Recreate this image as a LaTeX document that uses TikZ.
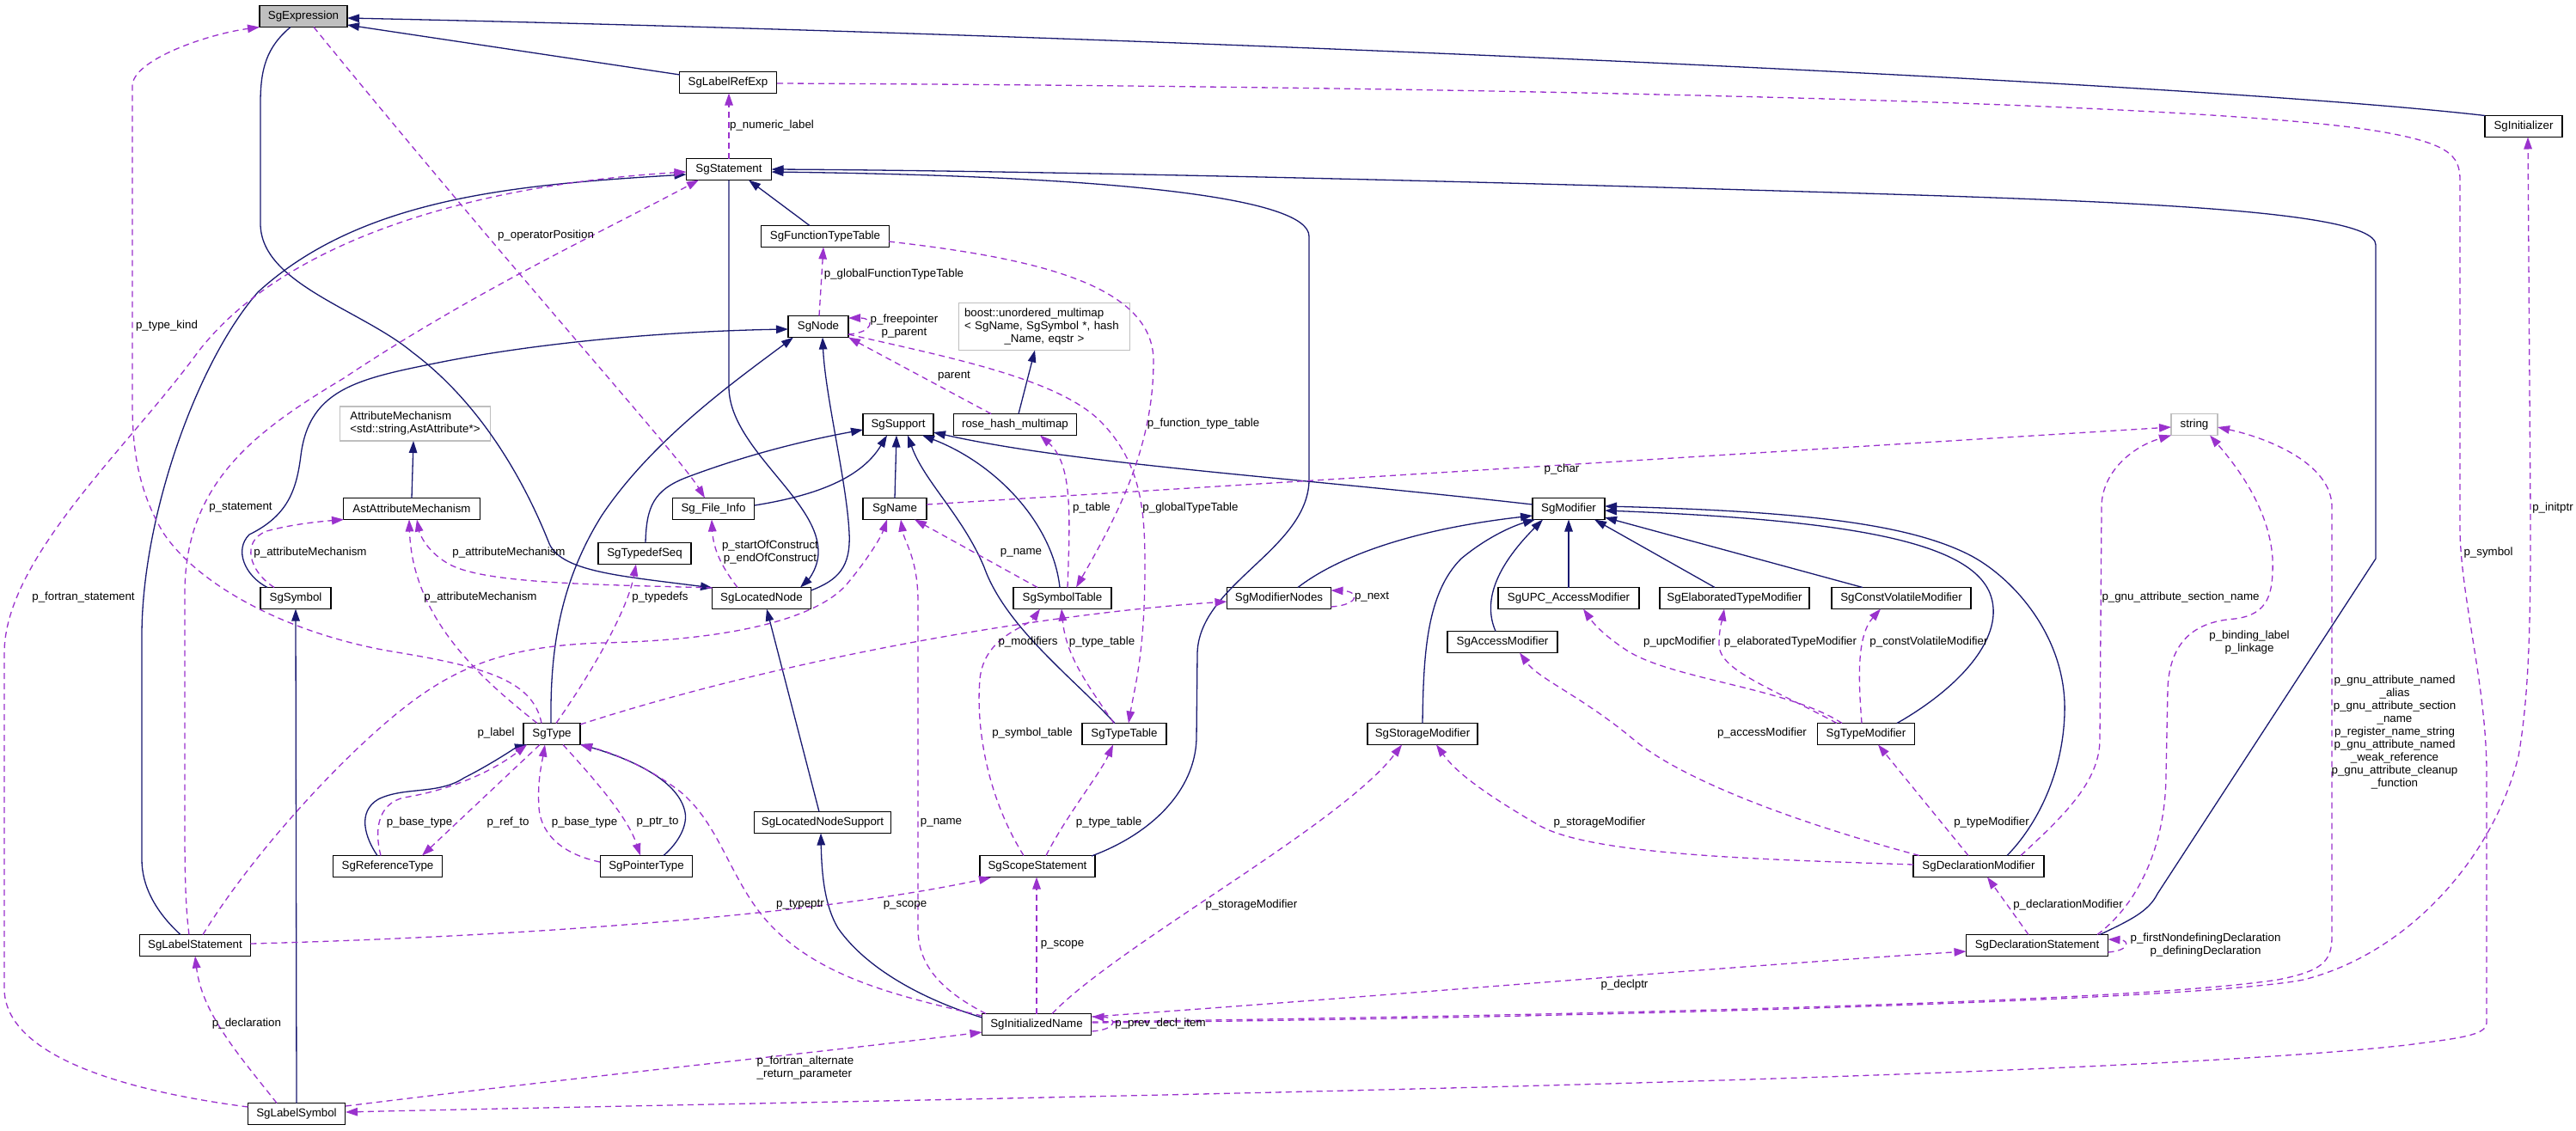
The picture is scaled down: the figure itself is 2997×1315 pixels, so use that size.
\documentclass[tikz,border=0pt]{standalone}
\usepackage{fontspec}
\setmainfont{Liberation Sans}
\usetikzlibrary{arrows.meta}
\definecolor{navyc}{HTML}{191970}
\definecolor{purp}{HTML}{9A32CD}
\definecolor{gbox}{HTML}{BFBFBF}
\newcommand{\dxf}{\fontsize{13.33}{15}\selectfont}
\tikzset{
  cls/.style={draw=black, line width=1.5pt, fill=white, minimum height=25pt, inner xsep=3pt, inner ysep=0pt, font=\dxf},
  ext/.style={cls, draw=gbox},
  inh/.style={draw=navyc, line width=1.3pt, -{Triangle[length=14pt,width=9.5pt]}},
  use/.style={draw=purp, line width=1.3pt, dash pattern=on 7pt off 5pt, -{Triangle[length=14pt,width=9.5pt]}},
  lbl/.style={font=\dxf, inner sep=0pt, align=center},
}
\begin{document}
\begin{tikzpicture}[x=1pt,y=-1pt]
\useasboundingbox (0,0) rectangle (2997,1315);
\fill[white] (0,0) rectangle (2997,1315);
% ---------------- nodes
\node[cls,fill=gbox,minimum width=102pt] (expr) at (353,19) {SgExpression};
\node[cls,minimum width=113pt] (lre) at (847,96) {SgLabelRefExp};
\node[cls,minimum width=99pt] (stmt) at (848,197) {SgStatement};
\node[cls,minimum width=149pt] (ftt) at (960,275) {SgFunctionTypeTable};
\node[cls,minimum width=90pt] (init) at (2936,147) {SgInitializer};
\node[cls,minimum width=70pt] (sgnode) at (952,380) {SgNode};
\node[ext,minimum width=199pt,minimum height=55pt,text width=186pt,align=left] (boost) at (1215,380) {boost::unordered\_multimap\\< SgName, SgSymbol *, hash\\\makebox[186pt][c]{\_Name, eqstr >}};
\node[cls,minimum width=82pt] (supp) at (1045,494) {SgSupport};
\node[cls,minimum width=143pt] (rhm) at (1181,494) {rose\_hash\_multimap};
\node[ext,minimum width=54pt] (str) at (2553,494) {string};
\node[ext,minimum width=175pt,minimum height=40pt,align=left] (am) at (483,493) {AttributeMechanism\\<std::string,AstAttribute*>};
\node[cls,minimum width=159pt] (ast) at (479,592) {AstAttributeMechanism};
\node[cls,minimum width=95pt] (sfi) at (830,592) {Sg\_File\_Info};
\node[cls,minimum width=74pt] (sgname) at (1041,592) {SgName};
\node[cls,minimum width=84pt] (mod) at (1825,592) {SgModifier};
\node[cls,minimum width=108pt] (tds) at (750,644) {SgTypedefSeq};
\node[cls,minimum width=82pt] (sym) at (344,696) {SgSymbol};
\node[cls,minimum width=115pt] (ln) at (886,696) {SgLocatedNode};
\node[cls,minimum width=114pt] (symt) at (1236,696) {SgSymbolTable};
\node[cls,minimum width=121pt] (mn) at (1488,696) {SgModifierNodes};
\node[cls,minimum width=164pt] (upc) at (1825,696) {SgUPC\_AccessModifier};
\node[cls,minimum width=174pt] (etm) at (2018,696) {SgElaboratedTypeModifier};
\node[cls,minimum width=162pt] (cvm) at (2212,696) {SgConstVolatileModifier};
\node[cls,minimum width=128pt] (acc) at (1748,747) {SgAccessModifier};
\node[cls,minimum width=66pt] (sgtype) at (642,854) {SgType};
\node[cls,minimum width=98pt] (tt) at (1308,854) {SgTypeTable};
\node[cls,minimum width=128pt] (stor) at (1655,854) {SgStorageModifier};
\node[cls,minimum width=113pt] (tm) at (2171,854) {SgTypeModifier};
\node[cls,minimum width=159pt] (lns) at (957,957) {SgLocatedNodeSupport};
\node[cls,minimum width=127pt] (ref) at (451,1008) {SgReferenceType};
\node[cls,minimum width=107pt] (ptr) at (752,1008) {SgPointerType};
\node[cls,minimum width=134pt] (scope) at (1207,1008) {SgScopeStatement};
\node[cls,minimum width=152pt] (dm) at (2302,1008) {SgDeclarationModifier};
\node[cls,minimum width=129pt] (lst) at (227,1100) {SgLabelStatement};
\node[cls,minimum width=165pt] (ds) at (2370,1100) {SgDeclarationStatement};
\node[cls,minimum width=127pt] (iname) at (1206,1192) {SgInitializedName};
\node[cls,minimum width=113pt] (lsym) at (345,1296) {SgLabelSymbol};
% ---------------- inheritance (navy)
\draw[inh] ([shift={(-56,-9)}]lre.center) -- ([shift={(51,10)}]expr.center);
\draw[inh] ([shift={(-45,-12.5)}]init.center) .. controls (2550,95) and (1300,40) .. ([shift={(51,2)}]expr.center);
\draw[inh] ([shift={(-15,12.5)}]expr.center) .. controls (310,55) and (303,80) .. (303,120) -- (303,260) .. controls (303,330) and (420,360) .. (480,410) .. controls (560,470) and (610,560) .. (638,630) .. controls (650,665) and (720,670) .. ([shift={(-57,-12)}]ln.center);
\draw[inh] ([shift={(0,12.5)}]stmt.center) -- (848,450) .. controls (848,520) and (950,580) .. (952,640) .. controls (953,660) and (940,675) .. ([shift={(45,-12.5)}]ln.center);
\draw[inh] ([shift={(57.5,-9)}]ln.center) .. controls (975,675) and (990,660) .. (988,620) .. controls (985,560) and (960,460) .. ([shift={(5,12.5)}]sgnode.center);
\draw[inh] ([shift={(-1,-12.5)}]sgtype.center) .. controls (640,760) and (650,680) .. (700,600) .. controls (760,510) and (860,440) .. ([shift={(-29,12.5)}]sgnode.center);
\draw[inh] ([shift={(-33,-12.5)}]sym.center) .. controls (285,670) and (272,640) .. (290,622) .. controls (335,600) and (345,570) .. (350,530) .. controls (360,450) and (420,440) .. (520,420) .. controls (650,395) and (800,385) .. ([shift={(-35,3)}]sgnode.center);
\draw[inh] ([shift={(-18,-12.5)}]ftt.center) -- ([shift={(23,12.5)}]stmt.center);
\draw[inh] ([shift={(63,-12)}]scope.center) .. controls (1340,970) and (1390,920) .. (1392,860) -- (1393,760) .. controls (1395,680) and (1520,640) .. (1523,560) -- (1523,275) .. controls (1523,230) and (1300,205) .. ([shift={(49.5,3)}]stmt.center);
\draw[inh] ([shift={(73,-12.5)}]ds.center) .. controls (2480,1070) and (2500,1060) .. (2510,1040) -- (2764,650) -- (2764,285) .. controls (2764,240) and (2400,232) .. (2000,220) .. controls (1500,205) and (1100,198) .. ([shift={(49.5,0)}]stmt.center);
\draw[inh] ([shift={(-4,-12.5)}]lns.center) -- ([shift={(6,12.5)}]ln.center);
\draw[inh] ([shift={(-63.5,-8)}]iname.center) .. controls (1080,1165) and (1010,1130) .. (975,1080) .. controls (960,1055) and (956,1020) .. ([shift={(-2,12.5)}]lns.center);
\draw[inh] ([shift={(0,-12.5)}]ast.center) -- ([shift={(-2,20)}]am.center);
\draw[inh] ([shift={(0,-12.5)}]lsym.center) -- ([shift={(0,12.5)}]sym.center);
\draw[inh] ([shift={(-17,-12.5)}]lst.center) .. controls (180,1060) and (165,1030) .. (165,1000) -- (165,740) .. controls (165,600) and (230,420) .. (300,340) .. controls (420,230) and (600,215) .. ([shift={(-49.5,6)}]stmt.center);
\draw[inh] ([shift={(-12,-12.5)}]ref.center) .. controls (425,975) and (415,945) .. (440,930) .. controls (470,915) and (510,925) .. (540,905) .. controls (570,890) and (600,870) .. ([shift={(-29,12.5)}]sgtype.center);
\draw[inh] ([shift={(20,-12.5)}]ptr.center) .. controls (790,980) and (800,960) .. (797,945) .. controls (790,910) and (740,885) .. ([shift={(33,12)}]sgtype.center);
\draw[inh] ([shift={(22,-12.5)}]mn.center) .. controls (1560,645) and (1650,615) .. ([shift={(-42,8)}]mod.center);
\draw[inh] ([shift={(0,-12.5)}]stor.center) .. controls (1656,760) and (1660,690) .. (1700,650) .. controls (1730,625) and (1760,612) .. ([shift={(-39,12.5)}]mod.center);
\draw[inh] ([shift={(-8,-12.5)}]acc.center) .. controls (1725,700) and (1740,660) .. ([shift={(-30,12.5)}]mod.center);
\draw[inh] ([shift={(0,-12.5)}]upc.center) -- ([shift={(0,12.5)}]mod.center);
\draw[inh] ([shift={(-23,-12.5)}]etm.center) -- ([shift={(30,12.5)}]mod.center);
\draw[inh] ([shift={(-45,-12.5)}]cvm.center) -- ([shift={(42,10)}]mod.center);
\draw[inh] ([shift={(36,-12.5)}]tm.center) .. controls (2280,800) and (2335,740) .. (2315,690) .. controls (2290,630) and (2150,605) .. ([shift={(42,2)}]mod.center);
\draw[inh] ([shift={(33,-12.5)}]dm.center) .. controls (2370,960) and (2400,900) .. (2402,830) .. controls (2405,740) and (2340,670) .. (2290,645) .. controls (2220,610) and (2100,595) .. ([shift={(42,-3)}]mod.center);
\draw[inh] ([shift={(4,-12.5)}]rhm.center) -- ([shift={(-11,27.5)}]boost.center);
\draw[inh] ([shift={(48,-4)}]sfi.center) .. controls (940,578) and (1000,560) .. ([shift={(-13,12.5)}]supp.center);
\draw[inh] ([shift={(1,-12.5)}]tds.center) .. controls (752,590) and (760,570) .. (800,555) .. controls (880,525) and (950,510) .. ([shift={(-41,6)}]supp.center);
\draw[inh] ([shift={(0,-12.5)}]sgname.center) -- ([shift={(-2,12.5)}]supp.center);
\draw[inh] ([shift={(-11,-12.5)}]tt.center) .. controls (1250,790) and (1170,730) .. (1145,660) .. controls (1120,600) and (1075,560) .. ([shift={(11,12.5)}]supp.center);
\draw[inh] ([shift={(-3,-12.5)}]symt.center) .. controls (1225,610) and (1160,540) .. ([shift={(28,12.5)}]supp.center);
\draw[inh] ([shift={(-42,-5)}]mod.center) .. controls (1500,555) and (1250,540) .. ([shift={(41,9)}]supp.center);
% ---------------- usage (dashed purple)
\draw[use] ([shift={(-12,-12.5)}]sgtype.center) .. controls (620,790) and (560,775) .. (450,757) .. controls (330,735) and (230,680) .. (190,620) .. controls (160,570) and (154,520) .. (154,470) -- (154,100) .. controls (154,70) and (240,40) .. ([shift={(-51,12.5)}]expr.center);
\draw[use] ([shift={(12,12.5)}]expr.center) .. controls (600,320) and (790,530) .. ([shift={(-10,-12.5)}]sfi.center);
\draw[use] ([shift={(0,-12.5)}]stmt.center) -- ([shift={(1,12.5)}]lre.center);
\draw[use] ([shift={(57,1)}]lre.center) .. controls (1600,100) and (2500,115) .. (2750,150) .. controls (2850,165) and (2862,180) .. (2862,210) -- (2862,620) .. controls (2864,700) and (2893,800) .. (2893,900) -- (2893,1190) .. controls (2893,1205) and (2860,1208) .. (2800,1216) .. controls (2400,1260) and (1000,1280) .. ([shift={(57,-2)}]lsym.center);
\draw[use] ([shift={(1,-12.5)}]sgnode.center) -- ([shift={(-2,12.5)}]ftt.center);
\draw[use] ([shift={(35,9)}]sgnode.center) .. controls (1017,387) and (1018,370) .. ([shift={(35,-10)}]sgnode.center);
\draw[use] ([shift={(-28,-12.5)}]rhm.center) -- ([shift={(35,12.5)}]sgnode.center);
\draw[use] ([shift={(35,9)}]sgnode.center) .. controls (1100,415) and (1230,440) .. (1280,490) .. controls (1330,540) and (1332,600) .. (1332,660) .. controls (1332,760) and (1320,800) .. ([shift={(5,-12.5)}]tt.center);
\draw[use] ([shift={(74,6)}]ftt.center) .. controls (1200,300) and (1342,330) .. (1342,420) .. controls (1342,520) and (1300,600) .. ([shift={(16,-12.5)}]symt.center);
\draw[use] ([shift={(6,-12.5)}]symt.center) .. controls (1245,600) and (1248,540) .. ([shift={(29,12.5)}]rhm.center);
\draw[use] ([shift={(-29,-12.5)}]symt.center) -- ([shift={(23,12.5)}]sgname.center);
\draw[use] ([shift={(37,-5)}]sgname.center) -- ([shift={(-27,3)}]str.center);
\draw[use] ([shift={(60.5,10)}]mn.center) .. controls (1582,704) and (1582,688) .. ([shift={(60.5,-9)}]mn.center);
\draw[use] ([shift={(33,-11)}]sgtype.center) .. controls (900,770) and (1200,715) .. ([shift={(-60.5,4)}]mn.center);
\draw[use] ([shift={(10,-12.5)}]scope.center) .. controls (1240,950) and (1280,900) .. ([shift={(-13,12.5)}]tt.center);
\draw[use] ([shift={(-16,-12.5)}]scope.center) .. controls (1150,930) and (1135,850) .. (1140,790) .. controls (1145,740) and (1195,730) .. ([shift={(-26,12.5)}]symt.center);
\draw[use] ([shift={(-12,-12.5)}]tt.center) .. controls (1260,790) and (1240,760) .. ([shift={(-1,12.5)}]symt.center);
\draw[use] ([shift={(-59,-12.5)}]iname.center) .. controls (1090,1150) and (1068,1120) .. (1068,1080) -- (1068,700) .. controls (1068,650) and (1052,630) .. ([shift={(7,12.5)}]sgname.center);
\draw[use] ([shift={(9,-12.5)}]lst.center) .. controls (290,1000) and (380,900) .. (450,840) .. controls (520,780) and (580,752) .. (700,748) .. controls (850,745) and (950,720) .. (985,680) .. controls (1010,650) and (1025,625) .. ([shift={(-9,12.5)}]sgname.center);
\draw[use] ([shift={(-7,-12.5)}]lst.center) .. controls (215,1050) and (215,1000) .. (215,950) -- (215,690) .. controls (215,560) and (300,500) .. (400,440) .. controls (550,340) and (700,270) .. ([shift={(-35,12.5)}]stmt.center);
\draw[use] ([shift={(-56.5,-8)}]lsym.center) .. controls (150,1270) and (5,1230) .. (5,1150) -- (5,760) .. controls (5,650) and (150,520) .. (230,410) .. controls (330,280) and (550,215) .. ([shift={(-49.5,3)}]stmt.center);
\draw[use] ([shift={(-25,-12.5)}]sym.center) .. controls (290,665) and (280,630) .. (310,618) .. controls (340,610) and (370,607) .. ([shift={(-79,12.5)}]ast.center);
\draw[use] ([shift={(-17,-12.5)}]sgtype.center) .. controls (560,790) and (480,720) .. ([shift={(-3,12.5)}]ast.center);
\draw[use] ([shift={(-57.5,-12)}]ln.center) .. controls (700,680) and (560,680) .. (520,655) .. controls (495,640) and (488,620) .. ([shift={(6,12.5)}]ast.center);
\draw[use] ([shift={(-28,-12.5)}]ln.center) .. controls (840,660) and (830,640) .. ([shift={(-2,12.5)}]sfi.center);
\draw[use] ([shift={(5,-12.5)}]sgtype.center) .. controls (690,780) and (730,710) .. ([shift={(-10,12.5)}]tds.center);
\draw[use] ([shift={(-8,-12.5)}]ref.center) .. controls (435,965) and (440,935) .. (470,928) .. controls (520,920) and (570,900) .. ([shift={(-29,12.5)}]sgtype.center);
\draw[use] ([shift={(-14,12.5)}]sgtype.center) -- ([shift={(40,-12.5)}]ref.center);
\draw[use] ([shift={(-54,-5)}]ptr.center) .. controls (660,995) and (630,975) .. (627,940) .. controls (625,910) and (630,890) .. ([shift={(-8,12.5)}]sgtype.center);
\draw[use] ([shift={(13,12.5)}]sgtype.center) .. controls (690,905) and (730,950) .. ([shift={(-7,-12.5)}]ptr.center);
\draw[use] ([shift={(-63.5,-10)}]iname.center) .. controls (1050,1160) and (960,1140) .. (900,1080) .. controls (850,1030) and (840,960) .. (790,920) .. controls (750,890) and (710,875) .. ([shift={(33,12.5)}]sgtype.center);
\draw[use] ([shift={(64.5,-2)}]lst.center) .. controls (600,1090) and (950,1065) .. ([shift={(-54,13)}]scope.center);
\draw[use] ([shift={(0,-12.5)}]iname.center) -- ([shift={(-1,12.5)}]scope.center);
\draw[use] ([shift={(18,-12.5)}]iname.center) .. controls (1300,1100) and (1560,960) .. ([shift={(-24,12.5)}]stor.center);
\draw[use] ([shift={(-76,-2)}]dm.center) .. controls (2050,1000) and (1850,995) .. (1790,960) .. controls (1730,925) and (1695,900) .. ([shift={(16,12.5)}]stor.center);
\draw[use] ([shift={(-69,-12.5)}]dm.center) .. controls (2100,960) and (1960,910) .. (1900,860) .. controls (1840,810) and (1790,790) .. ([shift={(20,12.5)}]acc.center);
\draw[use] ([shift={(-12,-12.5)}]dm.center) -- ([shift={(14,12.5)}]tm.center);
\draw[use] ([shift={(-28,-12.5)}]tm.center) .. controls (2080,800) and (1940,790) .. (1890,755) .. controls (1860,735) and (1850,720) .. ([shift={(17,12.5)}]upc.center);
\draw[use] ([shift={(-34,-12.5)}]tm.center) .. controls (2060,800) and (2000,780) .. (2000,750) .. controls (2000,730) and (2004,720) .. ([shift={(-12,12.5)}]etm.center);
\draw[use] ([shift={(-5,-12.5)}]tm.center) .. controls (2162,790) and (2160,740) .. ([shift={(-24,12.5)}]cvm.center);
\draw[use] ([shift={(-10,-12.5)}]ds.center) -- ([shift={(10,12.5)}]dm.center);
\draw[use] ([shift={(82.5,8)}]ds.center) .. controls (2478,1106) and (2478,1094) .. ([shift={(82.5,-7)}]ds.center);
\draw[use] ([shift={(49,-12.5)}]dm.center) .. controls (2400,950) and (2443,910) .. (2443,860) -- (2445,590) .. controls (2445,550) and (2480,520) .. ([shift={(-27,12.5)}]str.center);
\draw[use] ([shift={(70,-12.5)}]ds.center) .. controls (2490,1050) and (2520,980) .. (2520,900) -- (2522,800) .. controls (2525,740) and (2560,723) .. (2600,720) .. controls (2640,715) and (2645,690) .. (2644,650) .. controls (2640,590) and (2600,540) .. ([shift={(18,12.5)}]str.center);
\draw[use] ([shift={(64.5,-3)}]iname.center) .. controls (1700,1183) and (2450,1170) .. (2650,1140) .. controls (2700,1130) and (2713,1120) .. (2713,1090) -- (2713,590) .. controls (2713,540) and (2640,510) .. ([shift={(27,3)}]str.center);
\draw[use] ([shift={(64.5,-2)}]iname.center) .. controls (1800,1185) and (2550,1165) .. (2680,1140) .. controls (2800,1110) and (2900,1000) .. (2930,880) .. controls (2944,800) and (2944,700) .. (2944,600) -- ([shift={(5,12.5)}]init.center);
\draw[use] ([shift={(64.5,-9)}]iname.center) .. controls (1600,1160) and (2000,1125) .. ([shift={(-82.5,7)}]ds.center);
\draw[use] ([shift={(64.5,8)}]iname.center) .. controls (1300,1198) and (1300,1184) .. ([shift={(64.5,-9)}]iname.center);
\draw[use] ([shift={(57,-9)}]lsym.center) .. controls (700,1250) and (950,1225) .. ([shift={(-63.5,9)}]iname.center);
\draw[use] ([shift={(-23,-12.5)}]lsym.center) .. controls (280,1230) and (235,1180) .. ([shift={(0,12.5)}]lst.center);
% ---------------- labels
\node[lbl] (t1) at (898,146) {p\_numeric\_label};
\node[lbl] (t2) at (635,274) {p\_operatorPosition};
\node[lbl] (t3) at (194,379) {p\_type\_kind};
\node[lbl] (t4) at (1040,319) {p\_globalFunctionTypeTable};
\node[lbl] (t5) at (1052,380) {p\_freepointer\\p\_parent};
\node[lbl] (t6) at (1110,438) {parent};
\node[lbl] (t7) at (1400,493) {p\_function\_type\_table};
\node[lbl] (t8) at (1817,546) {p\_char};
\node[lbl] (t9) at (1270,591) {p\_table};
\node[lbl] (t10) at (1385,591) {p\_globalTypeTable};
\node[lbl] (t11) at (1188,643) {p\_name};
\node[lbl] (t12) at (1596,695) {p\_next};
\node[lbl] (t13) at (1196,747) {p\_modifiers};
\node[lbl] (t14) at (1282,747) {p\_type\_table};
\node[lbl] (t15) at (1954,747) {p\_upcModifier};
\node[lbl] (t16) at (1201,853) {p\_symbol\_table};
\node[lbl] (t17) at (280,591) {p\_statement};
\node[lbl] (t18) at (361,643) {p\_attributeMechanism};
\node[lbl] (t19) at (592,643) {p\_attributeMechanism};
\node[lbl] (t20) at (559,695) {p\_attributeMechanism};
\node[lbl] (t21) at (768,695) {p\_typedefs};
\node[lbl] (t22) at (896,643) {p\_startOfConstruct\\p\_endOfConstruct};
\node[lbl] (t23) at (97,695) {p\_fortran\_statement};
\node[lbl] (t24) at (577,853) {p\_label};
\node[lbl] (t25) at (2537,695) {p\_gnu\_attribute\_section\_name};
\node[lbl] (t26) at (2617,748) {p\_binding\_label\\p\_linkage};
\node[lbl] (t27) at (2970,591) {p\_initptr};
\node[lbl] (t28) at (2895,643) {p\_symbol};
\node[lbl] (t29) at (2083,747) {p\_elaboratedTypeModifier};
\node[lbl] (t30) at (2244,747) {p\_constVolatileModifier};
\node[lbl] (t31) at (2050,853) {p\_accessModifier};
\node[lbl] (t32) at (2786,852) {p\_gnu\_attribute\_named\\\_alias\\p\_gnu\_attribute\_section\\\_name\\p\_register\_name\_string\\p\_gnu\_attribute\_named\\\_weak\_reference\\p\_gnu\_attribute\_cleanup\\\_function};
\node[lbl] (t33) at (488,957) {p\_base\_type};
\node[lbl] (t34) at (591,957) {p\_ref\_to};
\node[lbl] (t35) at (680,957) {p\_base\_type};
\node[lbl] (t36) at (765,957) {p\_ptr\_to};
\node[lbl] (t37) at (931,1053) {p\_typeptr};
\node[lbl] (t38) at (287,1191) {p\_declaration};
\node[lbl,align=left] (t39) at (937,1243) {p\_fortran\_alternate\\\_return\_parameter};
\node[lbl] (t40) at (1095,957) {p\_name};
\node[lbl] (t41) at (1290,957) {p\_type\_table};
\node[lbl] (t42) at (1861,957) {p\_storageModifier};
\node[lbl] (t43) at (1456,1053) {p\_storageModifier};
\node[lbl] (t44) at (1053,1053) {p\_scope};
\node[lbl] (t45) at (1236,1099) {p\_scope};
\node[lbl] (t46) at (1890,1146) {p\_declptr};
\node[lbl] (t47) at (1350,1191) {p\_prev\_decl\_item};
\node[lbl] (t48) at (2317,957) {p\_typeModifier};
\node[lbl] (t49) at (2406,1053) {p\_declarationModifier};
\node[lbl] (t50) at (2566,1100) {p\_firstNondefiningDeclaration\\p\_definingDeclaration};
\end{tikzpicture}
\end{document}
